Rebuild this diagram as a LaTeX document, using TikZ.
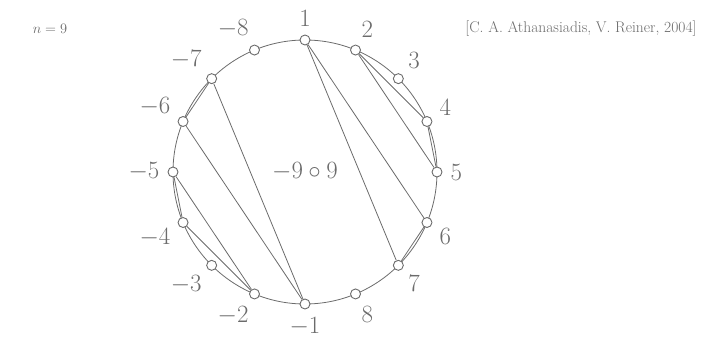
\documentclass[tikz,border=0pt]{standalone}
\usepackage{tikz}
\usetikzlibrary{calc}
\definecolor{linegray}{gray}{0.42}

\begin{document}
\begin{tikzpicture}[x=1pt, y=1pt]
    % Define styles
    \tikzstyle{vertex} = [circle, draw=linegray, fill=white, inner sep=0pt, minimum size=10pt, line width=0.9pt]
    \tikzstyle{num} = [text=linegray, inner sep=1pt, font=\fontsize{24}{26}\selectfont]
    \tikzstyle{chord} = [draw=linegray, line width=0.8pt]
    \tikzstyle{caption} = [text=linegray, font=\fontsize{15.5}{18}\selectfont]

    \useasboundingbox (0,0) rectangle (712,340);
    \coordinate (center) at (305,168);
    \draw[chord] (center) circle (132);

    % Vertices 1..8 and -1..-8
    \foreach \k [evaluate=\k as \ang using 90-22.5*(\k-1)] in {1,...,8} {
        \node[vertex, label={[num, label distance=7]\ang:$\k$}] (p\k) at ($(center)+(\ang:132)$) {};
        \node[vertex, label={[num, label distance=7]\ang+180:$-\k$}] (m\k) at ($(center)+(\ang+180:132)$) {};
    }

    % Center
    \node[num] (mid) at (center) {$-9\circ 9$};

    % Chords
    \draw[chord] (p1) -- (p6);
    \draw[chord] (p1) -- (p7);
    \draw[chord] (p2) -- (p4);
    \draw[chord] (p2) -- (p5);
    \draw[chord] (p4) -- (p5);
    \draw[chord] (p6) -- (p7);
    \draw[chord] (m1) -- (m6);
    \draw[chord] (m1) -- (m7);
    \draw[chord] (m2) -- (m4);
    \draw[chord] (m2) -- (m5);
    \draw[chord] (m4) -- (m5);
    \draw[chord] (m6) -- (m7);

    % Texts
    \node[caption, font=\fontsize{14}{16}\selectfont] (size) at (50,311) {$n=9$};
    \node[caption] (source) at (581,311) {[C. A. Athanasiadis, V. Reiner, 2004]};
\end{tikzpicture}
\end{document}
